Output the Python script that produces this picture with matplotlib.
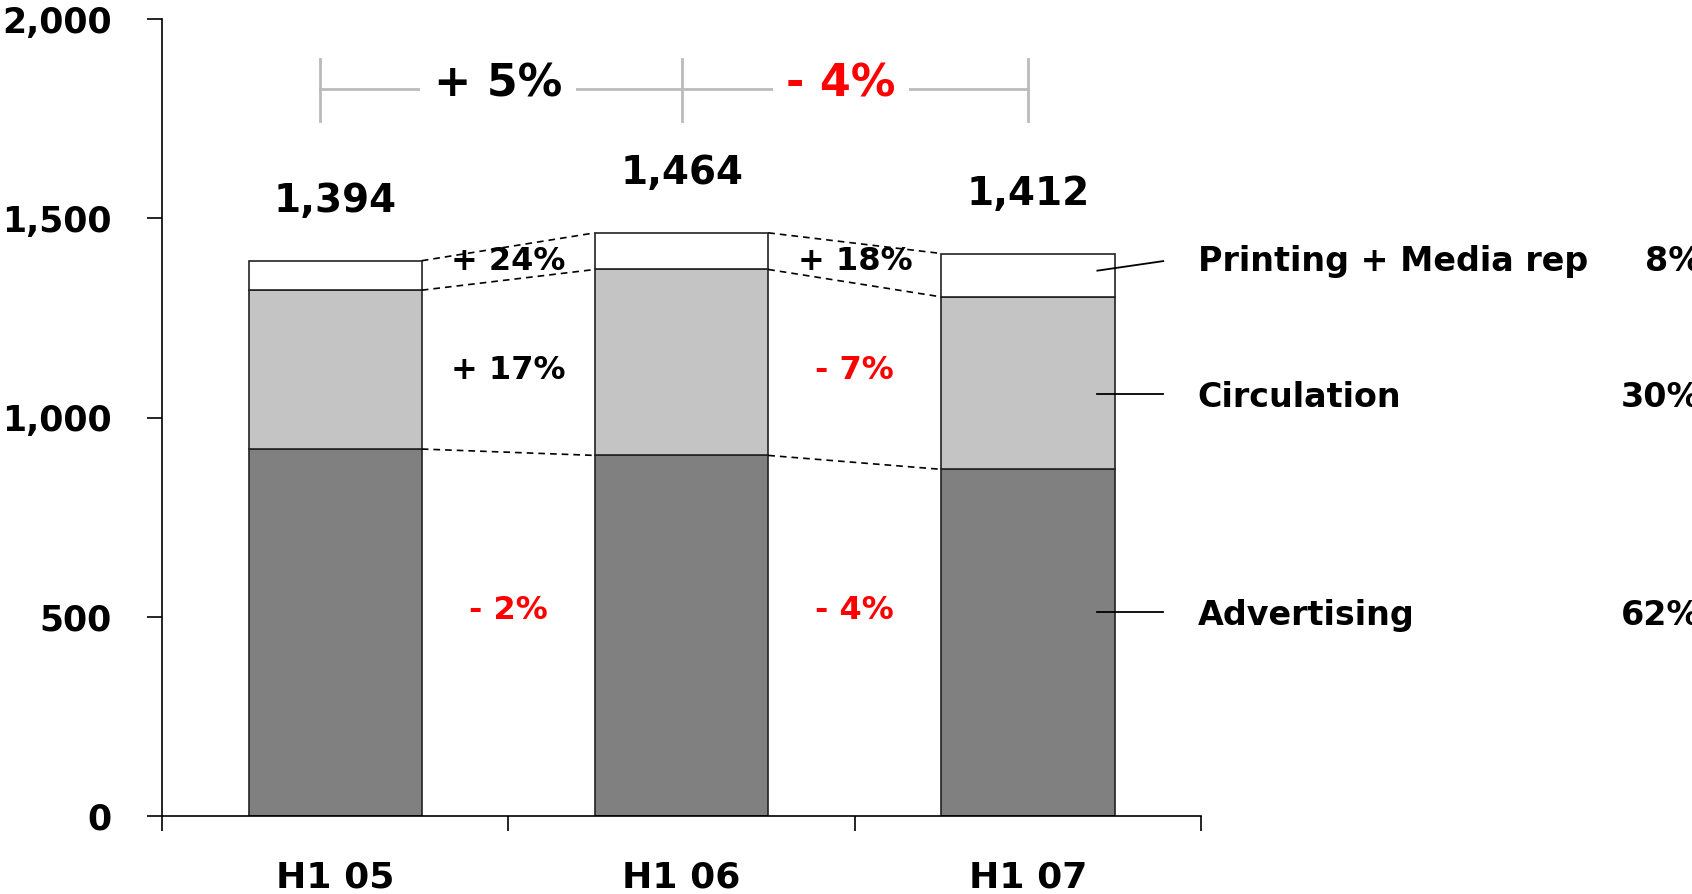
import matplotlib
matplotlib.use("Agg")
import matplotlib.pyplot as plt
import numpy as np

# data (EUR m)
periods = ["H1 05", "H1 06", "H1 07"]
advertising = [921, 905, 870]
circulation = [399, 467, 433]
printing = [74, 92, 109]
totals = ["1,394", "1,464", "1,412"]

adv_growth = ["- 2%", "- 4%"]
circ_growth = ["+ 17%", "- 7%"]
print_growth = ["+ 24%", "+ 18%"]
total_growth = ["+ 5%", "- 4%"]

segments = ["Advertising", "Circulation", "Printing + Media rep"]
shares = ["62%", "30%", "8%"]

RED = "#FF0000"
plt.rcParams["font.family"] = ["DejaVu Sans"]
plt.rcParams["font.weight"] = "bold"

fig = plt.figure(figsize=(16.92, 8.94), dpi=100)
ax = fig.add_axes([0.0957, 0.0875, 0.6143, 0.8908])

x = np.arange(len(periods))
w = 0.5
adv = np.array(advertising)
circ = np.array(circulation)
prt = np.array(printing)

ax.bar(x, adv, w, color="#808080", edgecolor="#222222", linewidth=1.2)
ax.bar(x, circ, w, bottom=adv, color="#C4C4C4", edgecolor="#222222", linewidth=1.2)
ax.bar(x, prt, w, bottom=adv + circ, color="white", edgecolor="#222222", linewidth=1.2)

# dashed connectors between segment tops
for tops in (adv, adv + circ, adv + circ + prt):
    for i in range(len(x) - 1):
        ax.plot([x[i] + w / 2, x[i + 1] - w / 2], [tops[i], tops[i + 1]],
                color="black", ls=(0, (4, 3)), lw=1.2)

# totals above bars
tot = adv + circ + prt
for i in range(len(x)):
    ax.text(x[i], tot[i] + 150, totals[i], ha="center", va="center", fontsize=28)

# growth labels between bars
def col(s):
    return RED if s.startswith("-") else "black"

for i in range(len(x) - 1):
    xm = x[i] + 0.5
    ax.text(xm, 1393, print_growth[i], ha="center", va="center", fontsize=23, color=col(print_growth[i]))
    ax.text(xm, 1119, circ_growth[i], ha="center", va="center", fontsize=23, color=col(circ_growth[i]))
    ax.text(xm, 515, adv_growth[i], ha="center", va="center", fontsize=23, color=col(adv_growth[i]))

# top bracket
yb = 1824
ax.plot([-0.045, 2.0], [yb, yb], color="#BBBBBB", lw=2, clip_on=False)
for xv in (-0.045, 1.0, 2.0):
    ax.plot([xv, xv], [1745, 1900], color="#BBBBBB", lw=2, clip_on=False)
for i in range(len(x) - 1):
    xm = 0.47 if i == 0 else 1.46
    ax.text(xm, yb + 15, total_growth[i], ha="center", va="center", fontsize=32,
            color=col(total_growth[i]),
            bbox=dict(facecolor="white", edgecolor="none", pad=10))

# segment labels at the right
seg_y = [504, 1051, 1393]
line_y = [(512, 512), (1060, 1060), (1369, 1393)]
share_x = [3.71, 3.71, 3.78]
for lab, sh, ty, ly, sx in zip(segments, shares, seg_y, line_y, share_x):
    ax.plot([2.2, 2.39], ly, color="black", lw=1.3, clip_on=False)
    ax.text(2.49, ty, lab, ha="left", va="center", fontsize=24)
    ax.text(sx, ty, sh, ha="left", va="center", fontsize=24)

ax.set_xlim(-0.5, 2.5)
ax.set_ylim(0, 2000)
ax.set_yticks([0, 500, 1000, 1500, 2000])
ax.set_yticklabels(["0", "500", "1,000", "1,500", "2,000"], fontsize=25)
ax.set_xticks(x)
ax.set_xticklabels(periods, fontsize=26)
ax.set_xticks([-0.5, 0.5, 1.5, 2.5], minor=True)
ax.tick_params(axis="x", which="major", length=0, pad=32)
ax.tick_params(axis="x", which="minor", length=11, width=1.2, direction="out")
ax.tick_params(axis="y", length=11, width=1.2, direction="out", pad=25)
for s in ("top", "right"):
    ax.spines[s].set_visible(False)
for s in ("left", "bottom"):
    ax.spines[s].set_linewidth(1.2)

fig.savefig("out.png", dpi=100)
